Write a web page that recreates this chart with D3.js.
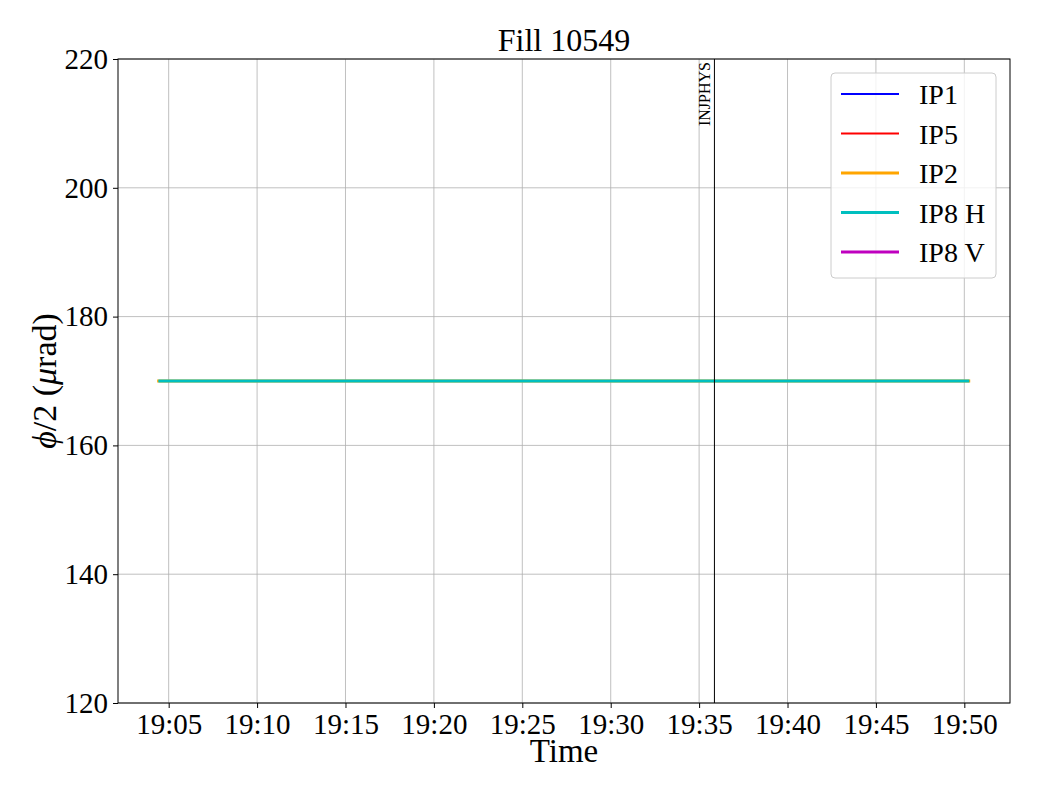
<!DOCTYPE html>
<html><head><meta charset="utf-8">
<script src="https://cdn.jsdelivr.net/npm/d3@7"></script>
<style>body{margin:0;background:#fff}svg{display:block}text{font-family:"Liberation Serif","Times New Roman",serif}</style>
</head><body>
<script>
const title = "Fill 10549";
const seriesNames = ["IP1","IP5","IP2","IP8 H","IP8 V"];
const seriesColors = ["#0000ff","#ff0000","#ffa500","#00bfbf","#bf00bf"];
const seriesWidths = [2,2,3,3,3];
const ip2Times = ["19:04:21","19:15:00","19:25:00","19:35:00","19:45:00","19:50:20"];
const ip2Values = [170,170,170,170,170,170];
const ip8hTimes = ["19:04:25","19:15:00","19:25:00","19:35:00","19:45:00","19:50:17"];
const ip8hValues = [170,170,170,170,170,170];
const xTickLabels = ["19:05","19:10","19:15","19:20","19:25","19:30","19:35","19:40","19:45","19:50"];
const yTicks = [120,140,160,180,200,220];
const markerTime = "19:35:52";
const markerLabel = "INJPHYS";
const xDomain = ["19:02:08","19:52:35"];

const parse = s => { const [h,m,sec] = s.split(":").map(Number); return new Date(2024,0,1,h,m,sec||0); };
const W=1040,H=800, m={l:118,r:1010,t:59,b:703};
const FONT = "Liberation Serif";
const svg = d3.select("body").append("svg").attr("width",W).attr("height",H);
const x = d3.scaleTime().domain(xDomain.map(parse)).range([m.l,m.r]);
const y = d3.scaleLinear().domain([120,220]).range([m.b,m.t]);

// grid
const gx = svg.append("g");
xTickLabels.forEach(t=>{ gx.append("line").attr("x1",x(parse(t))).attr("x2",x(parse(t))).attr("y1",m.t).attr("y2",m.b).attr("stroke","#b0b0b0").attr("stroke-width",0.8); });
yTicks.forEach(t=>{ gx.append("line").attr("x1",m.l).attr("x2",m.r).attr("y1",y(t)).attr("y2",y(t)).attr("stroke","#b0b0b0").attr("stroke-width",0.8); });

// axes
const xAxis = d3.axisBottom(x).tickValues(xTickLabels.map(parse)).tickFormat(d3.timeFormat("%H:%M")).tickSize(5).tickPadding(5);
const yAxis = d3.axisLeft(y).tickValues(yTicks).tickSize(5).tickPadding(5);
const ax = svg.append("g").attr("transform",`translate(0,${m.b})`).call(xAxis);
const ay = svg.append("g").attr("transform",`translate(${m.l},0)`).call(yAxis);
[ax,ay].forEach(a=>{ a.attr("font-family",FONT); a.select(".domain").remove(); a.selectAll("text").attr("font-size",29).attr("fill","#000").style("font-family",FONT); a.selectAll("line").attr("stroke","#000"); });

// lines
const line = d3.line().x(d=>x(d[0])).y(d=>y(d[1]));
const ip2 = ip2Times.map((t,i)=>[parse(t),ip2Values[i]]);
const ip8h = ip8hTimes.map((t,i)=>[parse(t),ip8hValues[i]]);
svg.append("path").datum(ip2).attr("d",line).attr("fill","none").attr("stroke",seriesColors[2]).attr("stroke-width",3);
svg.append("path").datum(ip8h).attr("d",line).attr("fill","none").attr("stroke",seriesColors[3]).attr("stroke-width",3);

// marker
const mx = x(parse(markerTime));
svg.append("line").attr("x1",mx).attr("x2",mx).attr("y1",m.t).attr("y2",m.b).attr("stroke","#000").attr("stroke-width",1);
svg.append("text").attr("transform",`translate(${mx-4},${m.t+3}) rotate(-90)`).attr("text-anchor","end").attr("font-size",16).text(markerLabel);

// frame
svg.append("rect").attr("x",m.l).attr("y",m.t).attr("width",m.r-m.l).attr("height",m.b-m.t).attr("fill","none").attr("stroke","#000").attr("stroke-width",1);

// title & labels
svg.append("text").attr("x",(m.l+m.r)/2).attr("y",51).attr("text-anchor","middle").attr("font-size",32).text(title);
svg.append("text").attr("x",(m.l+m.r)/2).attr("y",762).attr("text-anchor","middle").attr("font-size",33).text("Time");
const yl = svg.append("text").attr("transform",`translate(56,${(m.t+m.b)/2}) rotate(-90)`).attr("text-anchor","middle").attr("font-size",34);
yl.append("tspan").attr("font-style","italic").text("ϕ");
yl.append("tspan").text("/2 (");
yl.append("tspan").attr("font-style","italic").text("μ");
yl.append("tspan").text("rad)");

// legend
const lg = svg.append("g");
lg.append("rect").attr("x",831).attr("y",73).attr("width",165).attr("height",205).attr("rx",4).attr("fill","#fff").attr("fill-opacity",0.8).attr("stroke","#cccccc").attr("stroke-width",1);
seriesNames.forEach((n,i)=>{
  const yy = 94 + i*39.5;
  lg.append("line").attr("x1",841).attr("x2",899).attr("y1",yy).attr("y2",yy).attr("stroke",seriesColors[i]).attr("stroke-width",seriesWidths[i]);
  lg.append("text").attr("x",919).attr("y",yy+10).attr("font-size",28).text(n);
});
</script>
</body></html>
